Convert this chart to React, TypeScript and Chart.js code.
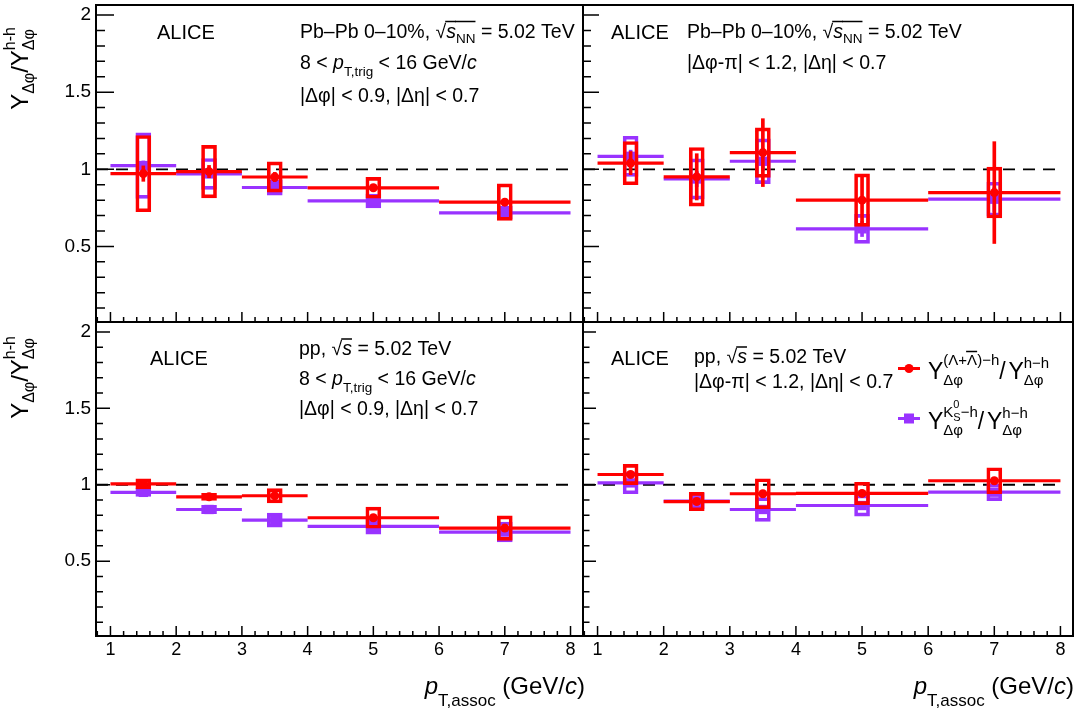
import React, { useEffect, useRef } from 'react';
import { Chart, registerables } from 'chart.js';

Chart.register(...registerables);

const FONT = '"Liberation Sans", Arial, Helvetica, sans-serif';
const RED = '#ff0000';
const PURPLE = '#9933ff';

// ---------- data ----------
const BIN_LO = [1, 2, 3, 4, 6];
const BIN_HI = [2, 3, 4, 6, 8];
const BIN_CENTER = [1.5, 2.5, 3.5, 5, 7];

const X_TICKS = [1, 2, 3, 4, 5, 6, 7, 8];
const Y_TICKS = [0.5, 1, 1.5, 2];
const X_MIN = 0.78;
const X_MAX = 8.19;
const Y_MIN = 0.01;
const Y_MAX = 2.065;

// Pb-Pb 0-10%, near side
const PBPB_NEAR_LAM = [0.972, 0.985, 0.95, 0.88, 0.787];
const PBPB_NEAR_LAM_STAT = [0.05, 0.04, 0.03, 0.02, 0.02];
const PBPB_NEAR_LAM_SYS = [0.247, 0.17, 0.098, 0.068, 0.118];
const PBPB_NEAR_K0 = [1.024, 0.97, 0.882, 0.795, 0.718];
const PBPB_NEAR_K0_STAT = [0.03, 0.02, 0.015, 0.012, 0.012];
const PBPB_NEAR_K0_SYS = [0.213, 0.1, 0.05, 0.045, 0.042];

// Pb-Pb 0-10%, away side
const PBPB_AWAY_LAM = [1.04, 0.951, 1.108, 0.8, 0.849];
const PBPB_AWAY_LAM_STAT = [0.075, 0.15, 0.22, 0.16, 0.33];
const PBPB_AWAY_LAM_SYS = [0.14, 0.19, 0.16, 0.17, 0.165];
const PBPB_AWAY_K0 = [1.084, 0.937, 1.052, 0.614, 0.806];
const PBPB_AWAY_K0_STAT = [0.04, 0.05, 0.06, 0.05, 0.08];
const PBPB_AWAY_K0_SYS = [0.13, 0.13, 0.145, 0.094, 0.11];

// pp, near side
const PP_NEAR_LAM = [1.005, 0.921, 0.928, 0.784, 0.716];
const PP_NEAR_LAM_STAT = [0.01, 0.01, 0.012, 0.015, 0.015];
const PP_NEAR_LAM_SYS = [0.033, 0.023, 0.047, 0.069, 0.08];
const PP_NEAR_K0 = [0.95, 0.838, 0.768, 0.727, 0.69];
const PP_NEAR_K0_STAT = [0.01, 0.01, 0.01, 0.01, 0.01];
const PP_NEAR_K0_SYS = [0.027, 0.027, 0.046, 0.05, 0.065];

// pp, away side
const PP_AWAY_LAM = [1.067, 0.89, 0.941, 0.943, 1.026];
const PP_AWAY_LAM_STAT = [0.015, 0.01, 0.015, 0.015, 0.02];
const PP_AWAY_LAM_SYS = [0.066, 0.06, 0.098, 0.073, 0.085];
const PP_AWAY_K0 = [1.012, 0.893, 0.838, 0.864, 0.951];
const PP_AWAY_K0_STAT = [0.01, 0.01, 0.01, 0.01, 0.01];
const PP_AWAY_K0_SYS = [0.071, 0.05, 0.078, 0.069, 0.055];

// ---------- rich text ----------
type Run = { t: string; s?: number; dy?: number; it?: boolean; mark?: string; from?: string; over?: number };
type TextItem = { x: number; y: number; runs: Run[]; base: number; rotate?: boolean; right?: boolean };

function rich(ctx: CanvasRenderingContext2D, x0: number, y0: number, runs: Run[], base: number, draw: boolean) {
  let x = x0;
  const marks: Record<string, number> = {};
  for (const r of runs) {
    const size = r.s ?? base;
    ctx.font = `${r.it ? 'italic ' : ''}${size}px ${FONT}`;
    if (r.mark) marks[r.mark] = x;
    let prev: number | null = null;
    if (r.from !== undefined) {
      prev = x;
      x = marks[r.from];
    }
    const w = ctx.measureText(r.t).width;
    if (draw) {
      ctx.fillText(r.t, x, y0 + (r.dy ?? 0));
      if (r.over !== undefined) {
        ctx.beginPath();
        ctx.lineWidth = 1.5;
        ctx.moveTo(x - 1, y0 + r.over);
        ctx.lineTo(x + w, y0 + r.over);
        ctx.stroke();
      }
    }
    x += w;
    if (prev !== null) x = Math.max(x, prev);
  }
  return x - x0;
}

const SQRT_OVER = -16;
const T_ALICE: Run[] = [{ t: 'ALICE' }];
const T_PBPB: Run[] = [
  { t: 'Pb–Pb 0–10%, ' },
  { t: '√' },
  { t: 's', it: true, over: SQRT_OVER },
  { t: 'NN', s: 13.5, dy: 5, over: SQRT_OVER },
  { t: ' = 5.02 TeV' },
];
const T_PP: Run[] = [{ t: 'pp, ' }, { t: '√' }, { t: 's', it: true, over: SQRT_OVER }, { t: ' = 5.02 TeV' }];
const T_TRIG: Run[] = [
  { t: '8 < ' },
  { t: 'p', it: true },
  { t: 'T,trig', s: 13.5, dy: 7 },
  { t: ' < 16 GeV/' },
  { t: 'c', it: true },
];
const T_NEAR: Run[] = [{ t: '|Δφ| < 0.9, |Δη| < 0.7' }];
const T_AWAY: Run[] = [{ t: '|Δφ-π| < 1.2, |Δη| < 0.7' }];
const T_YTITLE: Run[] = [
  { t: 'Y' },
  { t: 'Δφ', s: 16, dy: 6 },
  { t: '/' },
  { t: 'Y' },
  { t: 'h-h', s: 16, dy: -13, mark: 'a' },
  { t: 'Δφ', s: 16, dy: 6, from: 'a' },
];
const T_XTITLE: Run[] = [
  { t: 'p', it: true },
  { t: 'T,assoc', s: 17, dy: 12 },
  { t: ' (GeV/' },
  { t: 'c', it: true },
  { t: ')' },
];
const T_LEG_LAM: Run[] = [
  { t: 'Y' },
  { t: '(Λ+', s: 15, dy: -14, mark: 'a' },
  { t: 'Λ', s: 15, dy: -14, over: -27 },
  { t: ')−h', s: 15, dy: -14 },
  { t: 'Δφ', s: 15, dy: 6, from: 'a' },
  { t: '/' },
  { t: ' ', s: 10 },
  { t: 'Y' },
  { t: 'h−h', s: 15, dy: -11, mark: 'b' },
  { t: 'Δφ', s: 15, dy: 6, from: 'b' },
];
const T_LEG_K0: Run[] = [
  { t: 'Y' },
  { t: 'K', s: 15, dy: -12, mark: 'a' },
  { t: '0', s: 11, dy: -21, mark: 'k' },
  { t: 'S', s: 11, dy: -8, from: 'k' },
  { t: '−h', s: 15, dy: -12 },
  { t: 'Δφ', s: 15, dy: 6, from: 'a' },
  { t: '/' },
  { t: ' ', s: 10 },
  { t: 'Y' },
  { t: 'h−h', s: 15, dy: -11, mark: 'b' },
  { t: 'Δφ', s: 15, dy: 6, from: 'b' },
];

// ---------- panels ----------
type PanelCfg = {
  key: string;
  frame: { l: number; r: number; t: number; b: number };
  yw: number;
  xh: number;
  showX: boolean;
  showY: boolean;
  lam: number[];
  lamStat: number[];
  lamSys: number[];
  k0: number[];
  k0Stat: number[];
  k0Sys: number[];
  yTick: [number, number];
  xTick: [number, number];
  texts: TextItem[];
  legend: boolean;
};

const PANELS: PanelCfg[] = [
  {
    key: 'tl',
    frame: { l: 96, r: 583, t: 5, b: 322 },
    yw: 96,
    xh: 10,
    showX: false,
    showY: true,
    lam: PBPB_NEAR_LAM,
    lamStat: PBPB_NEAR_LAM_STAT,
    lamSys: PBPB_NEAR_LAM_SYS,
    k0: PBPB_NEAR_K0,
    k0Stat: PBPB_NEAR_K0_STAT,
    k0Sys: PBPB_NEAR_K0_SYS,
    yTick: [18, 9],
    xTick: [10, 5],
    legend: false,
    texts: [
      { x: 157, y: 39, runs: T_ALICE, base: 20 },
      { x: 300, y: 37.5, runs: T_PBPB, base: 19.5 },
      { x: 300, y: 68.5, runs: T_TRIG, base: 19.5 },
      { x: 300, y: 101.5, runs: T_NEAR, base: 19.5 },
      { x: 28, y: 27, runs: T_YTITLE, base: 24, rotate: true, right: true },
    ],
  },
  {
    key: 'tr',
    frame: { l: 583, r: 1073, t: 5, b: 322 },
    yw: 10,
    xh: 10,
    showX: false,
    showY: false,
    lam: PBPB_AWAY_LAM,
    lamStat: PBPB_AWAY_LAM_STAT,
    lamSys: PBPB_AWAY_LAM_SYS,
    k0: PBPB_AWAY_K0,
    k0Stat: PBPB_AWAY_K0_STAT,
    k0Sys: PBPB_AWAY_K0_SYS,
    yTick: [16, 8],
    xTick: [10, 5],
    legend: false,
    texts: [
      { x: 611, y: 39, runs: T_ALICE, base: 20 },
      { x: 687, y: 37.5, runs: T_PBPB, base: 19.5 },
      { x: 687, y: 68.5, runs: T_AWAY, base: 19.5 },
    ],
  },
  {
    key: 'bl',
    frame: { l: 96, r: 583, t: 322, b: 636 },
    yw: 96,
    xh: 72,
    showX: true,
    showY: true,
    lam: PP_NEAR_LAM,
    lamStat: PP_NEAR_LAM_STAT,
    lamSys: PP_NEAR_LAM_SYS,
    k0: PP_NEAR_K0,
    k0Stat: PP_NEAR_K0_STAT,
    k0Sys: PP_NEAR_K0_SYS,
    yTick: [14, 7],
    xTick: [10, 5],
    legend: false,
    texts: [
      { x: 150, y: 365, runs: T_ALICE, base: 20 },
      { x: 299, y: 355, runs: T_PP, base: 19.5 },
      { x: 299, y: 384.5, runs: T_TRIG, base: 19.5 },
      { x: 299, y: 415, runs: T_NEAR, base: 19.5 },
      { x: 28, y: 336, runs: T_YTITLE, base: 24, rotate: true, right: true },
      { x: 585, y: 694, runs: T_XTITLE, base: 24, right: true },
    ],
  },
  {
    key: 'br',
    frame: { l: 583, r: 1073, t: 322, b: 636 },
    yw: 10,
    xh: 72,
    showX: true,
    showY: false,
    lam: PP_AWAY_LAM,
    lamStat: PP_AWAY_LAM_STAT,
    lamSys: PP_AWAY_LAM_SYS,
    k0: PP_AWAY_K0,
    k0Stat: PP_AWAY_K0_STAT,
    k0Sys: PP_AWAY_K0_SYS,
    yTick: [13, 6.5],
    xTick: [10, 5],
    legend: true,
    texts: [
      { x: 611, y: 365, runs: T_ALICE, base: 20 },
      { x: 694, y: 363, runs: T_PP, base: 19.5 },
      { x: 694, y: 388, runs: T_AWAY, base: 19.5 },
      { x: 928, y: 378.5, runs: T_LEG_LAM, base: 23 },
      { x: 928, y: 428.5, runs: T_LEG_K0, base: 23 },
      { x: 1074, y: 694, runs: T_XTITLE, base: 24, right: true },
    ],
  },
];

// ---------- dataset builders ----------
function segs(values: number[]) {
  const out: { x: number; y: number | null }[] = [];
  values.forEach((v, i) => {
    out.push({ x: BIN_LO[i], y: v }, { x: BIN_HI[i], y: v }, { x: BIN_HI[i], y: null });
  });
  return out;
}
function ranges(values: number[], errs: number[]) {
  return values.map((v, i) => ({ x: BIN_CENTER[i], y: [v - errs[i], v + errs[i]] }));
}
function pts(values: number[]) {
  return values.map((v, i) => ({ x: BIN_CENTER[i], y: v }));
}

function seriesDatasets(vals: number[], stat: number[], sys: number[], color: string, style: string, radius: number) {
  return [
    {
      type: 'line',
      data: pts(vals),
      showLine: false,
      pointStyle: style,
      pointRadius: radius,
      pointBackgroundColor: color,
      pointBorderColor: color,
      pointBorderWidth: 0,
    },
    {
      type: 'bar',
      data: ranges(vals, stat),
      backgroundColor: color,
      borderWidth: 0,
      barThickness: 3,
      grouped: false,
    },
    {
      type: 'line',
      data: segs(vals),
      borderColor: color,
      borderWidth: 3.2,
      pointRadius: 0,
      spanGaps: false,
      borderCapStyle: 'butt',
    },
    {
      type: 'bar',
      data: ranges(vals, sys),
      backgroundColor: 'rgba(0,0,0,0)',
      borderColor: color,
      borderWidth: 3,
      borderSkipped: false,
      barThickness: 15,
      grouped: false,
    },
  ];
}

const P = 30;

function Panel({ cfg }: { cfg: PanelCfg }) {
  const ref = useRef<HTMLCanvasElement>(null);
  const fw = cfg.frame.r - cfg.frame.l;
  const fh = cfg.frame.b - cfg.frame.t;
  const W = P + cfg.yw + fw + P;
  const H = P + fh + cfg.xh + P;
  const ox = cfg.frame.l - cfg.yw - P;
  const oy = cfg.frame.t - P;

  useEffect(() => {
    if (!ref.current) return;
    const decor = {
      id: 'decor_' + cfg.key,
      afterDraw(chart: any) {
        const ctx: CanvasRenderingContext2D = chart.ctx;
        const a = chart.chartArea;
        const xs = chart.scales.x;
        const ys = chart.scales.y;
        ctx.save();
        ctx.strokeStyle = '#000';
        ctx.fillStyle = '#000';
        ctx.lineWidth = 1.5;
        ctx.beginPath();
        for (let k = Math.ceil(X_MIN / 0.2); k * 0.2 <= X_MAX + 1e-9; k++) {
          const v = k * 0.2;
          const major = Math.abs(v - Math.round(v)) < 1e-6;
          const px = xs.getPixelForValue(v);
          ctx.moveTo(px, a.bottom);
          ctx.lineTo(px, a.bottom - (major ? cfg.xTick[0] : cfg.xTick[1]));
        }
        for (let k = Math.ceil(Y_MIN / 0.1); k * 0.1 <= Y_MAX + 1e-9; k++) {
          const v = k * 0.1;
          const major = Math.abs(v * 2 - Math.round(v * 2)) < 1e-6;
          const py = ys.getPixelForValue(v);
          ctx.moveTo(a.left, py);
          ctx.lineTo(a.left + (major ? cfg.yTick[0] : cfg.yTick[1]), py);
        }
        ctx.stroke();
        ctx.lineWidth = 2;
        ctx.strokeRect(a.left, a.top, a.right - a.left, a.bottom - a.top);

        if (cfg.legend) {
          const lx0 = 898 - ox;
          const lx1 = 920 - ox;
          const mx = 909 - ox;
          const y1 = 368.5 - oy;
          const y2 = 418.5 - oy;
          ctx.lineWidth = 3;
          ctx.strokeStyle = RED;
          ctx.beginPath();
          ctx.moveTo(lx0, y1);
          ctx.lineTo(lx1, y1);
          ctx.stroke();
          ctx.fillStyle = RED;
          ctx.beginPath();
          ctx.arc(mx, y1, 4.5, 0, Math.PI * 2);
          ctx.fill();
          ctx.strokeStyle = PURPLE;
          ctx.beginPath();
          ctx.moveTo(lx0, y2);
          ctx.lineTo(lx1, y2);
          ctx.stroke();
          ctx.fillStyle = PURPLE;
          ctx.fillRect(mx - 5, y2 - 5, 10, 10);
          ctx.strokeStyle = '#000';
          ctx.fillStyle = '#000';
        }

        ctx.textBaseline = 'alphabetic';
        ctx.textAlign = 'left';
        for (const it of cfg.texts) {
          const cx = it.x - ox;
          const cy = it.y - oy;
          ctx.save();
          ctx.translate(cx, cy);
          if (it.rotate) ctx.rotate(-Math.PI / 2);
          const w = it.right ? rich(ctx, 0, 0, it.runs, it.base, false) : 0;
          rich(ctx, -w, 0, it.runs, it.base, true);
          ctx.restore();
        }
        ctx.restore();
      },
    };

    const datasets: any[] = [
      ...seriesDatasets(cfg.lam, cfg.lamStat, cfg.lamSys, RED, 'circle', 4.5),
      ...seriesDatasets(cfg.k0, cfg.k0Stat, cfg.k0Sys, PURPLE, 'rect', 6.6),
      {
        type: 'line',
        data: [
          { x: X_MIN, y: 1 },
          { x: 8, y: 1 },
        ],
        borderColor: '#000',
        borderWidth: 1.8,
        borderDash: [12, 8],
        pointRadius: 0,
      },
    ];

    const chart = new Chart(ref.current, {
      type: 'bar',
      data: { datasets },
      options: {
        animation: false,
        responsive: false,
        maintainAspectRatio: false,
        events: [],
        layout: { padding: P },
        plugins: { legend: { display: false }, tooltip: { enabled: false } },
        scales: {
          x: {
            type: 'linear',
            min: X_MIN,
            max: X_MAX,
            offset: false,
            grid: { display: false, drawTicks: false },
            border: { display: false },
            afterBuildTicks: (s: any) => {
              s.ticks = X_TICKS.map((v) => ({ value: v }));
            },
            afterFit: (s: any) => {
              s.height = cfg.xh;
            },
            ticks: {
              display: cfg.showX,
              font: { family: FONT, size: 18 },
              color: '#000',
              padding: 3,
              maxRotation: 0,
              autoSkip: false,
              callback: (v: any) => String(v),
            },
          },
          y: {
            type: 'linear',
            min: Y_MIN,
            max: Y_MAX,
            grid: { display: false, drawTicks: false },
            border: { display: false },
            afterBuildTicks: (s: any) => {
              s.ticks = Y_TICKS.map((v) => ({ value: v }));
            },
            afterFit: (s: any) => {
              s.width = cfg.yw;
            },
            ticks: {
              display: cfg.showY,
              font: { family: FONT, size: 19 },
              color: '#000',
              padding: 5,
              autoSkip: false,
              callback: (v: any) => String(v),
            },
          },
        },
      } as any,
      plugins: [decor],
    } as any);
    return () => chart.destroy();
  }, []);

  return (
    <canvas
      ref={ref}
      width={W}
      height={H}
      style={{ position: 'absolute', left: ox, top: oy, width: W, height: H }}
    />
  );
}

export default function App() {
  return (
    <div
      style={{
        position: 'absolute',
        left: 0,
        top: 0,
        width: 1077,
        height: 708,
        overflow: 'hidden',
        background: '#fff',
      }}
    >
      {PANELS.map((p) => (
        <Panel key={p.key} cfg={p} />
      ))}
    </div>
  );
}
